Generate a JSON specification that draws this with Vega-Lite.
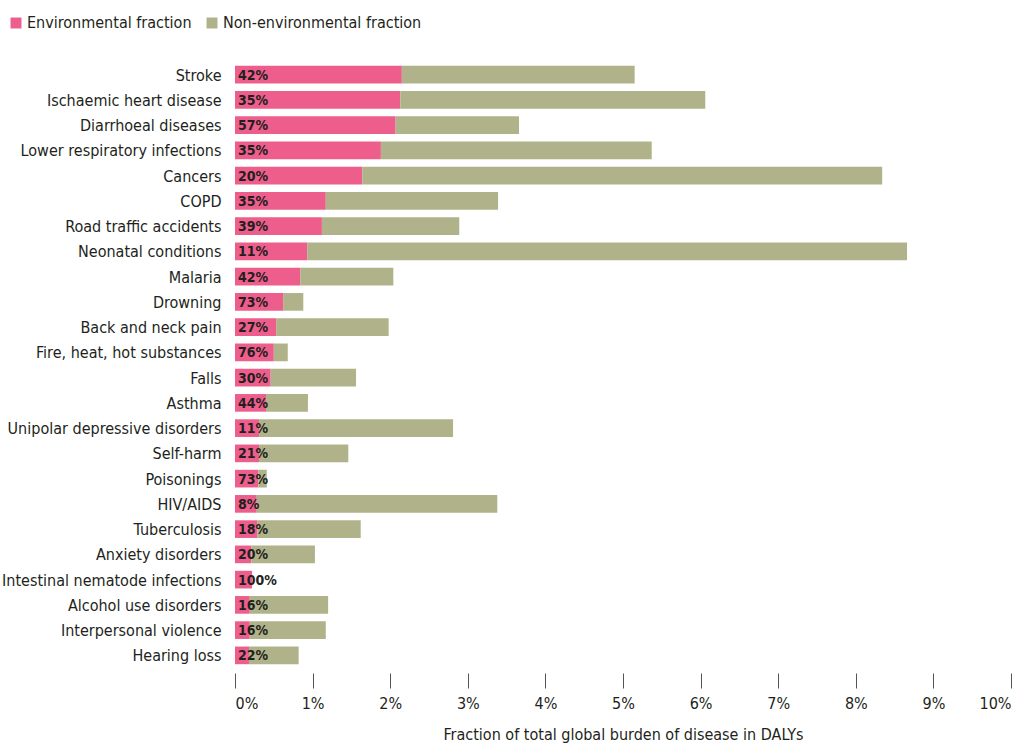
{
  "$schema": "https://vega.github.io/schema/vega-lite/v6.json",
  "width": 776,
  "height": 606,
  "autosize": {"type": "none"},
  "padding": {"left": 235, "top": 62, "right": 15, "bottom": 76},
  "background": "white",
  "config": {
    "font": "DejaVu Sans Condensed, Roboto Condensed, Roboto",
    "view": {"stroke": null}
  },
  "data": {
    "values": [
      {"disease": "Stroke", "type": "Environmental fraction", "value": 2.15, "pct": "42%"},
      {"disease": "Stroke", "type": "Non-environmental fraction", "value": 3.00, "pct": ""},
      {"disease": "Ischaemic heart disease", "type": "Environmental fraction", "value": 2.13, "pct": "35%"},
      {"disease": "Ischaemic heart disease", "type": "Non-environmental fraction", "value": 3.93, "pct": ""},
      {"disease": "Diarrhoeal diseases", "type": "Environmental fraction", "value": 2.07, "pct": "57%"},
      {"disease": "Diarrhoeal diseases", "type": "Non-environmental fraction", "value": 1.59, "pct": ""},
      {"disease": "Lower respiratory infections", "type": "Environmental fraction", "value": 1.88, "pct": "35%"},
      {"disease": "Lower respiratory infections", "type": "Non-environmental fraction", "value": 3.49, "pct": ""},
      {"disease": "Cancers", "type": "Environmental fraction", "value": 1.64, "pct": "20%"},
      {"disease": "Cancers", "type": "Non-environmental fraction", "value": 6.70, "pct": ""},
      {"disease": "COPD", "type": "Environmental fraction", "value": 1.17, "pct": "35%"},
      {"disease": "COPD", "type": "Non-environmental fraction", "value": 2.22, "pct": ""},
      {"disease": "Road traffic accidents", "type": "Environmental fraction", "value": 1.12, "pct": "39%"},
      {"disease": "Road traffic accidents", "type": "Non-environmental fraction", "value": 1.77, "pct": ""},
      {"disease": "Neonatal conditions", "type": "Environmental fraction", "value": 0.93, "pct": "11%"},
      {"disease": "Neonatal conditions", "type": "Non-environmental fraction", "value": 7.73, "pct": ""},
      {"disease": "Malaria", "type": "Environmental fraction", "value": 0.84, "pct": "42%"},
      {"disease": "Malaria", "type": "Non-environmental fraction", "value": 1.20, "pct": ""},
      {"disease": "Drowning", "type": "Environmental fraction", "value": 0.62, "pct": "73%"},
      {"disease": "Drowning", "type": "Non-environmental fraction", "value": 0.26, "pct": ""},
      {"disease": "Back and neck pain", "type": "Environmental fraction", "value": 0.53, "pct": "27%"},
      {"disease": "Back and neck pain", "type": "Non-environmental fraction", "value": 1.45, "pct": ""},
      {"disease": "Fire, heat, hot substances", "type": "Environmental fraction", "value": 0.50, "pct": "76%"},
      {"disease": "Fire, heat, hot substances", "type": "Non-environmental fraction", "value": 0.18, "pct": ""},
      {"disease": "Falls", "type": "Environmental fraction", "value": 0.46, "pct": "30%"},
      {"disease": "Falls", "type": "Non-environmental fraction", "value": 1.10, "pct": ""},
      {"disease": "Asthma", "type": "Environmental fraction", "value": 0.40, "pct": "44%"},
      {"disease": "Asthma", "type": "Non-environmental fraction", "value": 0.54, "pct": ""},
      {"disease": "Unipolar depressive disorders", "type": "Environmental fraction", "value": 0.31, "pct": "11%"},
      {"disease": "Unipolar depressive disorders", "type": "Non-environmental fraction", "value": 2.50, "pct": ""},
      {"disease": "Self-harm", "type": "Environmental fraction", "value": 0.31, "pct": "21%"},
      {"disease": "Self-harm", "type": "Non-environmental fraction", "value": 1.15, "pct": ""},
      {"disease": "Poisonings", "type": "Environmental fraction", "value": 0.30, "pct": "73%"},
      {"disease": "Poisonings", "type": "Non-environmental fraction", "value": 0.11, "pct": ""},
      {"disease": "HIV/AIDS", "type": "Environmental fraction", "value": 0.28, "pct": "8%"},
      {"disease": "HIV/AIDS", "type": "Non-environmental fraction", "value": 3.10, "pct": ""},
      {"disease": "Tuberculosis", "type": "Environmental fraction", "value": 0.29, "pct": "18%"},
      {"disease": "Tuberculosis", "type": "Non-environmental fraction", "value": 1.33, "pct": ""},
      {"disease": "Anxiety disorders", "type": "Environmental fraction", "value": 0.21, "pct": "20%"},
      {"disease": "Anxiety disorders", "type": "Non-environmental fraction", "value": 0.82, "pct": ""},
      {"disease": "Intestinal nematode infections", "type": "Environmental fraction", "value": 0.22, "pct": "100%"},
      {"disease": "Intestinal nematode infections", "type": "Non-environmental fraction", "value": 0.0, "pct": ""},
      {"disease": "Alcohol use disorders", "type": "Environmental fraction", "value": 0.19, "pct": "16%"},
      {"disease": "Alcohol use disorders", "type": "Non-environmental fraction", "value": 1.01, "pct": ""},
      {"disease": "Interpersonal violence", "type": "Environmental fraction", "value": 0.19, "pct": "16%"},
      {"disease": "Interpersonal violence", "type": "Non-environmental fraction", "value": 0.98, "pct": ""},
      {"disease": "Hearing loss", "type": "Environmental fraction", "value": 0.18, "pct": "22%"},
      {"disease": "Hearing loss", "type": "Non-environmental fraction", "value": 0.64, "pct": ""}
    ]
  },
  "encoding": {
    "y": {
      "field": "disease",
      "type": "nominal",
      "sort": null,
      "scale": {"paddingInner": 0.3, "paddingOuter": 0.15},
      "axis": {
        "title": null,
        "domain": false,
        "ticks": false,
        "labelFontSize": 16,
        "labelPadding": 14,
        "labelLimit": 0,
        "labelColor": "#231f20",
        "labelBaseline": "middle",
        "labelOffset": 1
      }
    }
  },
  "layer": [
    {
      "mark": {"type": "bar"},
      "encoding": {
        "x": {
          "field": "value",
          "type": "quantitative",
          "stack": "zero",
          "scale": {"domain": [0, 10], "nice": false},
          "axis": {
            "values": [0, 1, 2, 3, 4, 5, 6, 7, 8, 9, 10],
            "labelExpr": "datum.value + '%'",
            "domain": false,
            "grid": false,
            "tickSize": 15,
            "offset": 5,
            "tickColor": "#555555",
            "tickWidth": 1,
            "labelFontSize": 16,
            "labelColor": "#231f20",
            "labelPadding": 7,
            "title": "Fraction of total global burden of disease in DALYs",
            "titleFontSize": 16,
            "titleFontWeight": "normal",
            "titleColor": "#231f20",
            "titlePadding": 15
          }
        },
        "color": {
          "field": "type",
          "type": "nominal",
          "scale": {
            "domain": ["Environmental fraction", "Non-environmental fraction"],
            "range": ["#ee5e8c", "#b0b389"]
          },
          "legend": {
            "title": null,
            "orient": "none",
            "legendX": -227,
            "legendY": -47,
            "direction": "horizontal",
            "symbolType": "square",
            "symbolSize": 120,
            "symbolStrokeWidth": 0,
            "labelFontSize": 16,
            "labelLimit": 0,
            "labelColor": "#231f20",
            "labelOffset": 3,
            "columnPadding": 12
          }
        },
        "order": {"field": "type", "sort": "ascending"}
      }
    },
    {
      "transform": [{"filter": "datum.type === 'Environmental fraction'"}],
      "mark": {
        "type": "text",
        "align": "left",
        "baseline": "middle",
        "dx": 3,
        "dy": 1,
        "fontSize": 14,
        "fontWeight": "bold",
        "color": "#231f20"
      },
      "encoding": {
        "x": {"datum": 0},
        "text": {"field": "pct"}
      }
    }
  ]
}
